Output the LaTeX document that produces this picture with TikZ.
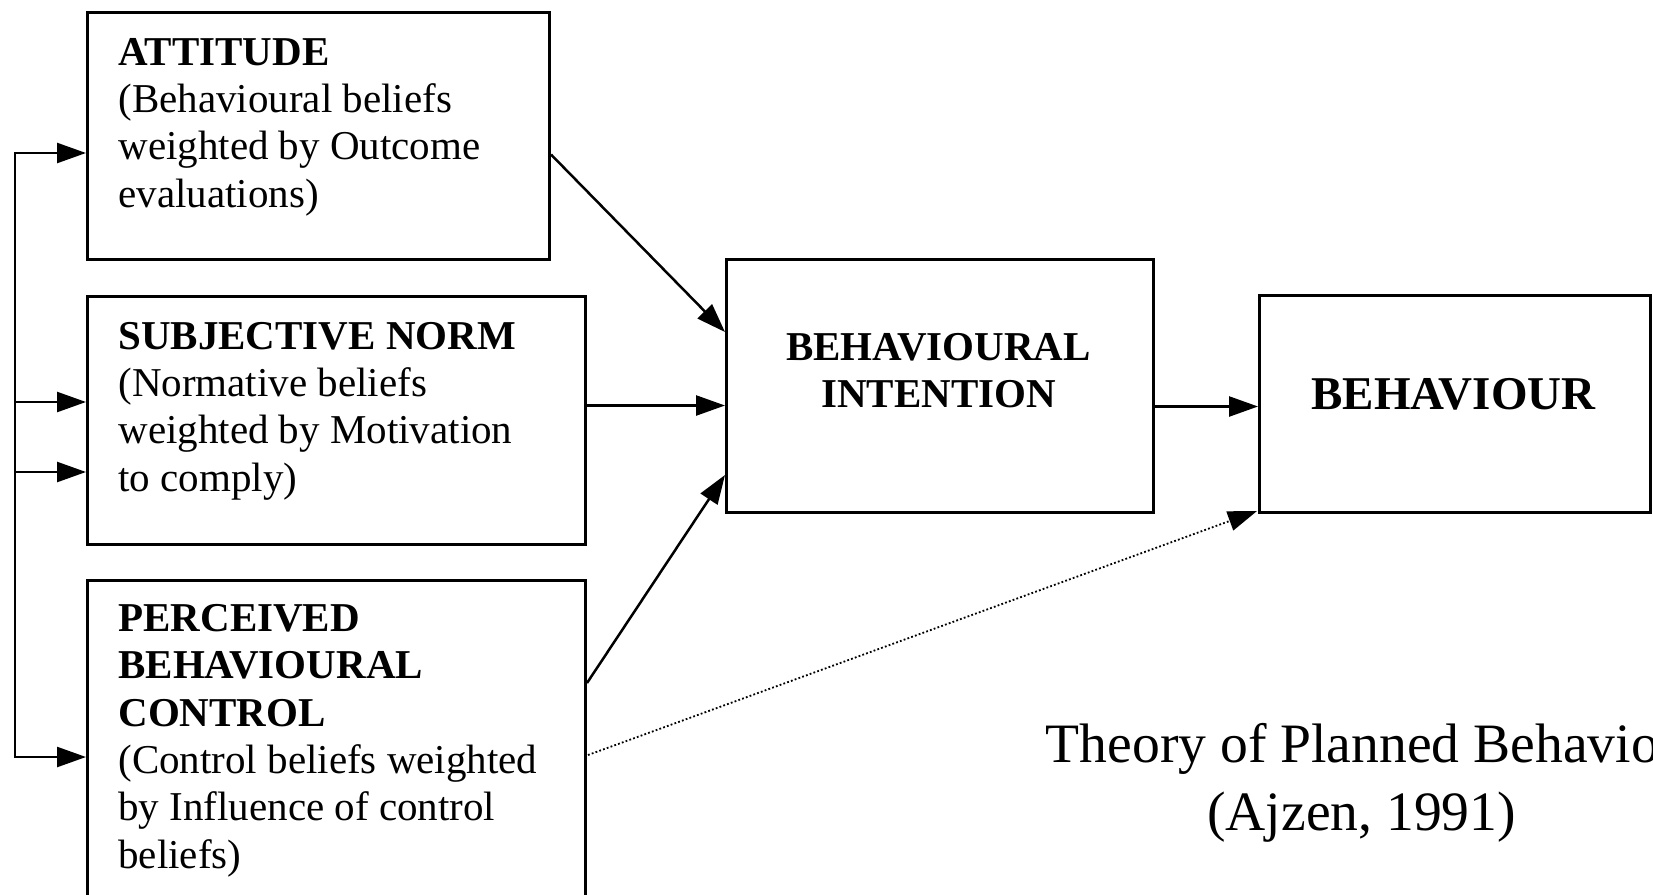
\documentclass[tikz,border=0pt]{standalone}
\usepackage{fontspec}
\setmainfont{Liberation Serif}
\usetikzlibrary{arrows.meta,calc}
\begin{document}
\begin{tikzpicture}[x=0.5pt,y=-0.5pt,
  box/.style={draw, line width=1.5pt, inner sep=0pt, anchor=north west},
  conn/.style={line width=1.25pt},
  arr/.style={conn, -{Triangle[length=14.5pt,width=10pt]}},
  dotarr/.style={line width=0.9pt, dash pattern=on 0.9pt off 1.1pt, -{Triangle[length=14.5pt,width=10pt]}},
  lbl/.style={inner sep=0pt, anchor=base west, align=left, font=\fontsize{20.5pt}{23.65pt}\selectfont},
  clbl/.style={inner sep=0pt, anchor=base, align=center, font=\fontsize{20.5pt}{23.85pt}\selectfont\bfseries},
  caption/.style={inner sep=0pt, anchor=base, align=center, font=\fontsize{27.8pt}{34pt}\selectfont}]
\useasboundingbox (0,0) rectangle (1653,894);
\fill[white] (0,0) rectangle (1653,894);

% boxes
\node[box, minimum width=231pt, minimum height=123.5pt] (att) at (86,11) {};
\node[box, minimum width=249pt, minimum height=124pt] (sn) at (86,295) {};
\node[box, minimum width=249pt, minimum height=158pt] (pbc) at (86,579) {};
\node[box, minimum width=213.5pt, minimum height=126.5pt] (bi) at (725,258) {};
\node[box, minimum width=195.5pt, minimum height=108.5pt] (beh) at (1258,294) {};

% texts (anchor = baseline of last line)
\node[lbl] (atttext) at (118,207) {\textbf{ATTITUDE}\\(Behavioural beliefs\\weighted by Outcome\\evaluations)};
\node[lbl] (sntext) at (118,491) {\textbf{SUBJECTIVE NORM}\\(Normative beliefs\\weighted by Motivation\\to comply)};
\node[lbl] (pbctext) at (118,868) {\textbf{PERCEIVED}\\\textbf{BEHAVIOURAL}\\\textbf{CONTROL}\\(Control beliefs weighted\\by Influence of control\\beliefs)};
\node[clbl] (bitext) at (938.5,407.7) {BEHAVIOURAL\\INTENTION};
\node[inner sep=0pt, anchor=base, font=\fontsize{23.5pt}{28pt}\selectfont\bfseries] (behtext) at (1453.5,409) {BEHAVIOUR};
\node[caption] (cap) at (1361.6,830) {Theory of Planned Behavior\\(Ajzen, 1991)};

% left bus
\coordinate (b1) at (15,153);
\coordinate (b2) at (15,402);
\coordinate (b3) at (15,472);
\coordinate (b4) at (15,757);
\draw[arr] (b4) -- (b1) -- (b1 -| att.west);
\draw[arr] (b1) -- (b4) -- (b4 -| pbc.west);
\draw[arr] (b2) -- (b2 -| sn.west);
\draw[arr] (b3) -- (b3 -| sn.west);

% into intention
\draw[arr] ($(att.east)+(0,18.5)$) -- ($(bi.north west)+(0,74)$);
\coordinate (snout) at ($(sn.east)+(0,-15)$);
\draw[arr] (snout) -- (snout -| bi.west);
\draw[arr] ($(pbc.north east)+(0,104)$) -- ($(bi.north west)+(0,217)$);

% intention to behaviour
\coordinate (biout) at ($(bi.east)+(0,20.5)$);
\draw[arr] (biout) -- (biout -| beh.west);

% dotted direct path
\draw[dotarr] ($(pbc.north east)+(1,176)$) -- ($(beh.south west)+(-1,-3)$);
\end{tikzpicture}
\end{document}
